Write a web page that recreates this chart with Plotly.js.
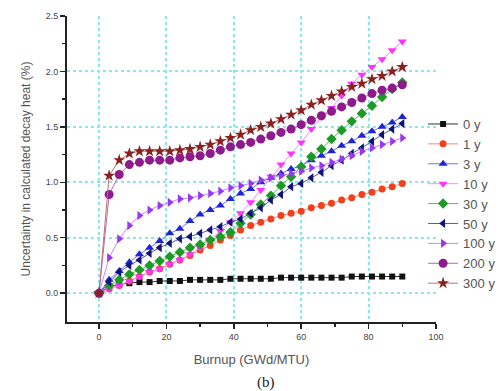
<!DOCTYPE html>
<html>
<head>
<meta charset="utf-8">
<script src="https://cdn.plot.ly/plotly-3.0.1.min.js"></script>
<style>html,body{margin:0;padding:0;background:#fff;}#chart{width:502px;height:391px;}</style>
</head>
<body>
<div id="chart"></div>
<script>
// Burnup values (GWd/MTU)
const burnup = [0,3,6,9,12,15,18,21,24,27,30,33,36,39,42,45,48,51,54,57,60,63,66,69,72,75,78,81,84,87,90];

const seriesNames = ["0 y","1 y","3 y","10 y","30 y","50 y","100 y","200 y","300 y"];

const y0   = [0,0.06,0.08,0.09,0.10,0.10,0.11,0.11,0.11,0.12,0.12,0.12,0.12,0.13,0.13,0.13,0.13,0.13,0.14,0.14,0.14,0.14,0.14,0.14,0.14,0.15,0.15,0.15,0.15,0.15,0.15];
const y1   = [0,0.04,0.07,0.11,0.15,0.19,0.22,0.26,0.30,0.34,0.39,0.43,0.48,0.52,0.57,0.61,0.64,0.67,0.70,0.72,0.74,0.77,0.79,0.81,0.84,0.86,0.89,0.91,0.94,0.96,0.99];
const y3   = [0,0.12,0.20,0.28,0.35,0.41,0.47,0.54,0.58,0.65,0.71,0.75,0.79,0.85,0.90,0.94,1.00,1.04,1.08,1.12,1.15,1.20,1.24,1.28,1.33,1.37,1.42,1.46,1.50,1.54,1.59];
const y10  = [0,0.04,0.07,0.11,0.15,0.19,0.22,0.26,0.30,0.35,0.41,0.48,0.56,0.64,0.72,0.82,0.93,1.05,1.16,1.26,1.36,1.48,1.59,1.67,1.78,1.89,1.97,2.04,2.11,2.19,2.27];
const y30  = [0,0.07,0.12,0.17,0.21,0.25,0.29,0.33,0.37,0.41,0.44,0.48,0.51,0.55,0.63,0.71,0.80,0.88,0.97,1.05,1.14,1.23,1.30,1.39,1.47,1.55,1.62,1.69,1.77,1.84,1.90];
const y50  = [0,0.10,0.19,0.25,0.30,0.36,0.41,0.45,0.49,0.51,0.54,0.57,0.60,0.64,0.67,0.72,0.77,0.84,0.89,0.96,0.99,1.04,1.09,1.15,1.20,1.26,1.31,1.37,1.43,1.48,1.53];
const y100 = [0,0.32,0.49,0.61,0.70,0.75,0.79,0.82,0.85,0.86,0.88,0.90,0.92,0.95,0.97,0.99,1.02,1.04,1.06,1.08,1.10,1.13,1.15,1.18,1.21,1.24,1.28,1.31,1.34,1.37,1.40];
const y200 = [0,0.89,1.07,1.16,1.18,1.20,1.20,1.20,1.22,1.23,1.24,1.26,1.29,1.32,1.34,1.36,1.39,1.42,1.45,1.48,1.52,1.56,1.60,1.64,1.68,1.72,1.76,1.80,1.83,1.85,1.88];
const y300 = [0,1.06,1.20,1.26,1.28,1.28,1.28,1.28,1.29,1.30,1.32,1.34,1.37,1.40,1.43,1.47,1.50,1.53,1.57,1.61,1.65,1.70,1.74,1.78,1.82,1.86,1.89,1.93,1.96,2.00,2.04];

const xTicks = [0,20,40,60,80,100];
const yTicks = [0,0.5,1.0,1.5,2.0,2.5];
const yTickText = ["0.0","0.5","1.0","1.5","2.0","2.5"];
const xGrid = [0,20,40,60,80];
const yGrid = [0,0.5,1.0,1.5,2.0];

const allY = [y0,y1,y3,y10,y30,y50,y100,y200,y300];
const styles = [
  {color:"#111111", line:"#333333", symbol:"square", size:6},
  {color:"#f2401c", line:"#f58a78", symbol:"circle", size:7},
  {color:"#1f24d6", line:"#7276e6", symbol:"triangle-up", size:8},
  {color:"#ff33ff", line:"#ff88ff", symbol:"triangle-down", size:8},
  {color:"#1c9a26", line:"#5fb865", symbol:"diamond", size:8},
  {color:"#10127a", line:"#5a5ca8", symbol:"triangle-left", size:8},
  {color:"#9a35f0", line:"#c08af5", symbol:"triangle-right", size:8},
  {color:"#8e1a8e", line:"#b06ab0", symbol:"circle", size:9},
  {color:"#8b2020", line:"#c07070", symbol:"star", size:9}
];

const traces = seriesNames.map((n,i)=>({
  type:"scatter", mode:"lines+markers", name:n,
  x:burnup, y:allY[i],
  line:{color:styles[i].line, width:1},
  marker:{color:styles[i].color, symbol:styles[i].symbol, size:styles[i].size, line:{width:0}},
  xaxis:"x", yaxis:"y"
}));

const xr = [-9.5, 100];
const yr = [-0.26, 2.5];

const layout = {
  width:502, height:391,
  margin:{l:67, r:66, t:16, b:69, autoexpand:false},
  paper_bgcolor:"#ffffff", plot_bgcolor:"rgba(0,0,0,0)",
  font:{family:"Liberation Sans, Arial, sans-serif", color:"#444"},
  showlegend:true,
  legend:{x:0.965, y:0.696, xanchor:"left", yanchor:"top", bgcolor:"rgba(0,0,0,0)",
          font:{size:13, color:"#555"}, itemwidth:30, tracegroupgap:0},
  xaxis:{range:xr, tickvals:xTicks, ticktext:xTicks.map(String), showgrid:false, zeroline:false, automargin:false,
         showline:true, linecolor:"#222", linewidth:2, ticks:"outside", ticklen:5, tickwidth:1.5, tickcolor:"#222",
         minor:{tickvals:[10,30,50,70,90], ticks:"outside", ticklen:3, tickcolor:"#222", showgrid:false},
         tickfont:{size:9, color:"#444", family:"Liberation Sans, Arial, sans-serif"},
         title:{text:"Burnup (GWd/MTU)", font:{size:13, color:"#555"}, standoff:14}},
  yaxis:{range:yr, tickvals:yTicks, ticktext:yTickText, showgrid:false, zeroline:false, automargin:false,
         showline:true, linecolor:"#222", linewidth:2, ticks:"outside", ticklen:5, tickwidth:1.5, tickcolor:"#222",
         minor:{tickvals:[0.25,0.75,1.25,1.75,2.25], ticks:"outside", ticklen:3, tickcolor:"#222", showgrid:false},
         tickfont:{size:9, color:"#444", family:"Liberation Sans, Arial, sans-serif"},
         title:{text:"Uncertainty in calculated decay heat (%)", font:{size:12, color:"#555"}, standoff:12}},
  xaxis2:{overlaying:"x", range:xr, tickvals:xGrid, showticklabels:false, ticks:"", showgrid:true,
          gridcolor:"#8ee6e6", griddash:"3px,3px", gridwidth:2, zeroline:false, showline:false, layer:"below traces"},
  yaxis2:{overlaying:"y", range:yr, tickvals:yGrid, showticklabels:false, ticks:"", showgrid:true,
          gridcolor:"#8ee6e6", griddash:"3px,3px", gridwidth:2, zeroline:false, showline:false, layer:"below traces"},
  annotations:[
    {text:"(b)", xref:"paper", yref:"paper", x:0.54, y:-0.165, xanchor:"center", yanchor:"top", showarrow:false,
     font:{family:"Liberation Serif, Times New Roman, serif", size:15, color:"#222"}}
  ]
};

// invisible helper trace so the grid axes are drawn
traces.unshift({type:"scatter", x:[xr[0]], y:[yr[0]], xaxis:"x2", yaxis:"y2", mode:"markers",
  marker:{opacity:0}, showlegend:false, hoverinfo:"skip"});

Plotly.newPlot("chart", traces, layout, {staticPlot:true, displayModeBar:false});
</script>
</body>
</html>
